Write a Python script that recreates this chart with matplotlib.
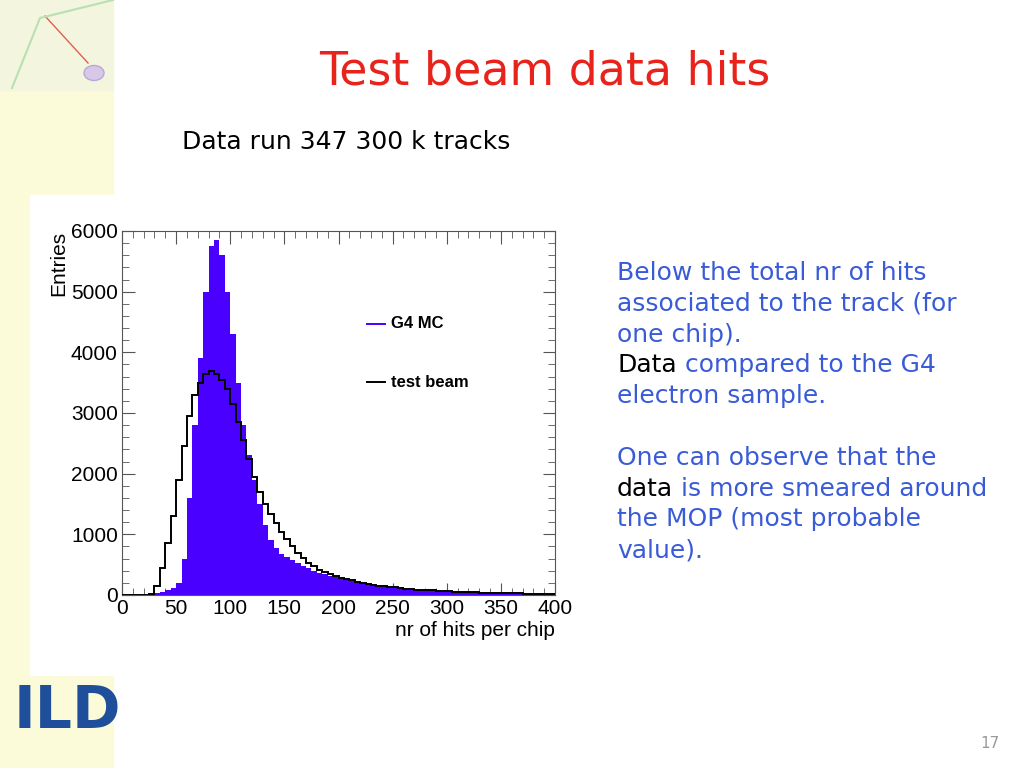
import numpy as np
import matplotlib.pyplot as plt
from matplotlib.patches import Rectangle, Circle
from matplotlib.lines import Line2D
from matplotlib.ticker import MultipleLocator

# histogram binning: 5 hits per bin, 0..400
bin_edges = np.arange(0, 405, 5)

# G4 MC (filled) entries per bin
mc_counts = [0, 0, 0, 0, 0,
             10, 30, 50, 80, 120, 200, 600, 1600, 2800, 3900, 5000, 5750, 5850,
             5600, 5000, 4300, 3500, 2800, 2300, 1900, 1500, 1150, 900, 780, 680,
             620, 570, 520, 480, 440, 400, 370, 340, 310, 290,
             270, 250, 230, 210, 195, 180, 165, 150, 140, 130,
             120, 110, 100, 95, 90, 85, 80, 75, 70, 65,
             60, 55, 52, 48, 45, 42, 40, 38, 35, 33,
             30, 28, 26, 25, 23, 22, 20, 20, 18, 18]

# test beam data (line) entries per bin
data_counts = [0, 0, 0, 0, 0,
               20, 150, 450, 850, 1300, 1900, 2450, 2950, 3300, 3500, 3650, 3700, 3650,
               3550, 3400, 3150, 2850, 2550, 2250, 1950, 1700, 1500, 1330, 1180, 1040,
               920, 810, 700, 610, 530, 470, 420, 380, 340, 310,
               280, 260, 240, 220, 200, 185, 170, 155, 145, 135,
               125, 115, 105, 98, 90, 85, 80, 75, 70, 65,
               60, 56, 52, 48, 45, 42, 40, 38, 35, 33,
               30, 28, 26, 25, 23, 22, 20, 20, 18, 18]

x_ticks = [0, 50, 100, 150, 200, 250, 300, 350, 400]
y_ticks = [0, 1000, 2000, 3000, 4000, 5000, 6000]

centers = bin_edges[:-1] + 2.5
fig = plt.figure(figsize=(10.24, 7.68), dpi=100)

# slide decoration: yellow side strip and white chart panel
fig.patches.append(Rectangle((0, 0), 113/1024, 1, transform=fig.transFigure,
                             color='#fbfbd9', zorder=0))
fig.patches.append(Rectangle((0, 678/768), 113/1024, 90/768, transform=fig.transFigure,
                             color='#f3f5df', zorder=0))
fig.patches.append(Rectangle((30/1024, 93/768), 550/1024, 480/768,
                             transform=fig.transFigure, color='white', zorder=0))
fig.patches.append(Circle((94/1024, 695/768), 10/1024, transform=fig.transFigure,
                          facecolor='#d8c8e8', edgecolor='#b8a8d8', zorder=1))
fig.lines.append(Line2D([45/1024, 88/1024], [752/768, 705/768],
                        transform=fig.transFigure, color='#e06050', lw=1))
fig.lines.append(Line2D([12/1024, 40/1024, 113/1024], [680/768, 750/768, 768/768],
                        transform=fig.transFigure, color='#b8e0b0', lw=1.5))

# ILD logo as text
fig.text(14/1024, 40/768, 'ILD', fontsize=42, fontweight='bold', color='#1f4f9a',
         family='DejaVu Sans')

fig.text(545/1024, 1 - 72/768, 'Test beam data hits', color='#e8231c', fontsize=33,
         ha='center', va='center', family='DejaVu Sans')
fig.text(182/1024, 1 - 142/768, 'Data run 347 300 k tracks', fontsize=18,
         va='center', family='DejaVu Sans')
fig.text(990/1024, 1 - 744/768, '17', fontsize=11, color='#999999', ha='center', va='center')

blue = '#3a5bd8'
lines = [[('Below the total nr of hits', blue)],
         [('associated to the track (for', blue)],
         [('one chip).', blue)],
         [('Data', 'black'), (' compared to the G4', blue)],
         [('electron sample.', blue)],
         None,
         [('One can observe that the', blue)],
         [('data', 'black'), (' is more smeared around', blue)],
         [('the MOP (most probable', blue)],
         [('value).', blue)]]
y0 = 273
r = fig.canvas.get_renderer()
for i, ln in enumerate(lines):
    if ln is None:
        continue
    y = 1 - (y0 + i * 30.8) / 768
    x = 617 / 1024
    for txt, col in ln:
        t = fig.text(x, y, txt, color=col, fontsize=18, va='center', family='DejaVu Sans')
        bb = t.get_window_extent(renderer=r)
        x += bb.width / fig.bbox.width

ax = fig.add_axes([122/1024, 173/768, 433/1024, 364/768])
ax.set_zorder(5)
ax.hist(centers, bins=bin_edges, weights=mc_counts, histtype='stepfilled',
        color='#4a00ff', zorder=2)
ax.hist(centers, bins=bin_edges, weights=data_counts, histtype='step',
        color='black', lw=1.4, zorder=3)
ax.set_xlim(0, 400)
ax.set_ylim(0, 6000)
ax.set_xticks(x_ticks)
ax.set_yticks(y_ticks)
ax.xaxis.set_minor_locator(MultipleLocator(10))
ax.yaxis.set_minor_locator(MultipleLocator(200))
ax.tick_params(which='both', direction='in', top=True, right=True, labelsize=15,
               color='#555555', pad=3)
ax.tick_params(which='major', length=9)
ax.tick_params(which='minor', length=5)
for lab in ax.get_xticklabels() + ax.get_yticklabels():
    lab.set_family('Liberation Sans')
for s in ax.spines.values():
    s.set_color('#555555')
ax.set_xlabel('nr of hits per chip', fontsize=15, family='Liberation Sans', loc='right',
              labelpad=2)
ax.set_ylabel('Entries', fontsize=15, family='Liberation Sans', loc='top', labelpad=2)

# legend drawn by hand in axes coordinates
ax.add_line(Line2D([0.565, 0.607], [0.745, 0.745], transform=ax.transAxes,
                   color='#4a00ff', lw=1.4))
ax.text(0.622, 0.745, 'G4 MC', transform=ax.transAxes, fontsize=12, fontweight='bold',
        va='center', family='Liberation Sans')
ax.add_line(Line2D([0.565, 0.607], [0.585, 0.585], transform=ax.transAxes,
                   color='black', lw=1.4))
ax.text(0.622, 0.585, 'test beam', transform=ax.transAxes, fontsize=12, fontweight='bold',
        va='center', family='Liberation Sans')

fig.savefig('out.png', dpi=100)
